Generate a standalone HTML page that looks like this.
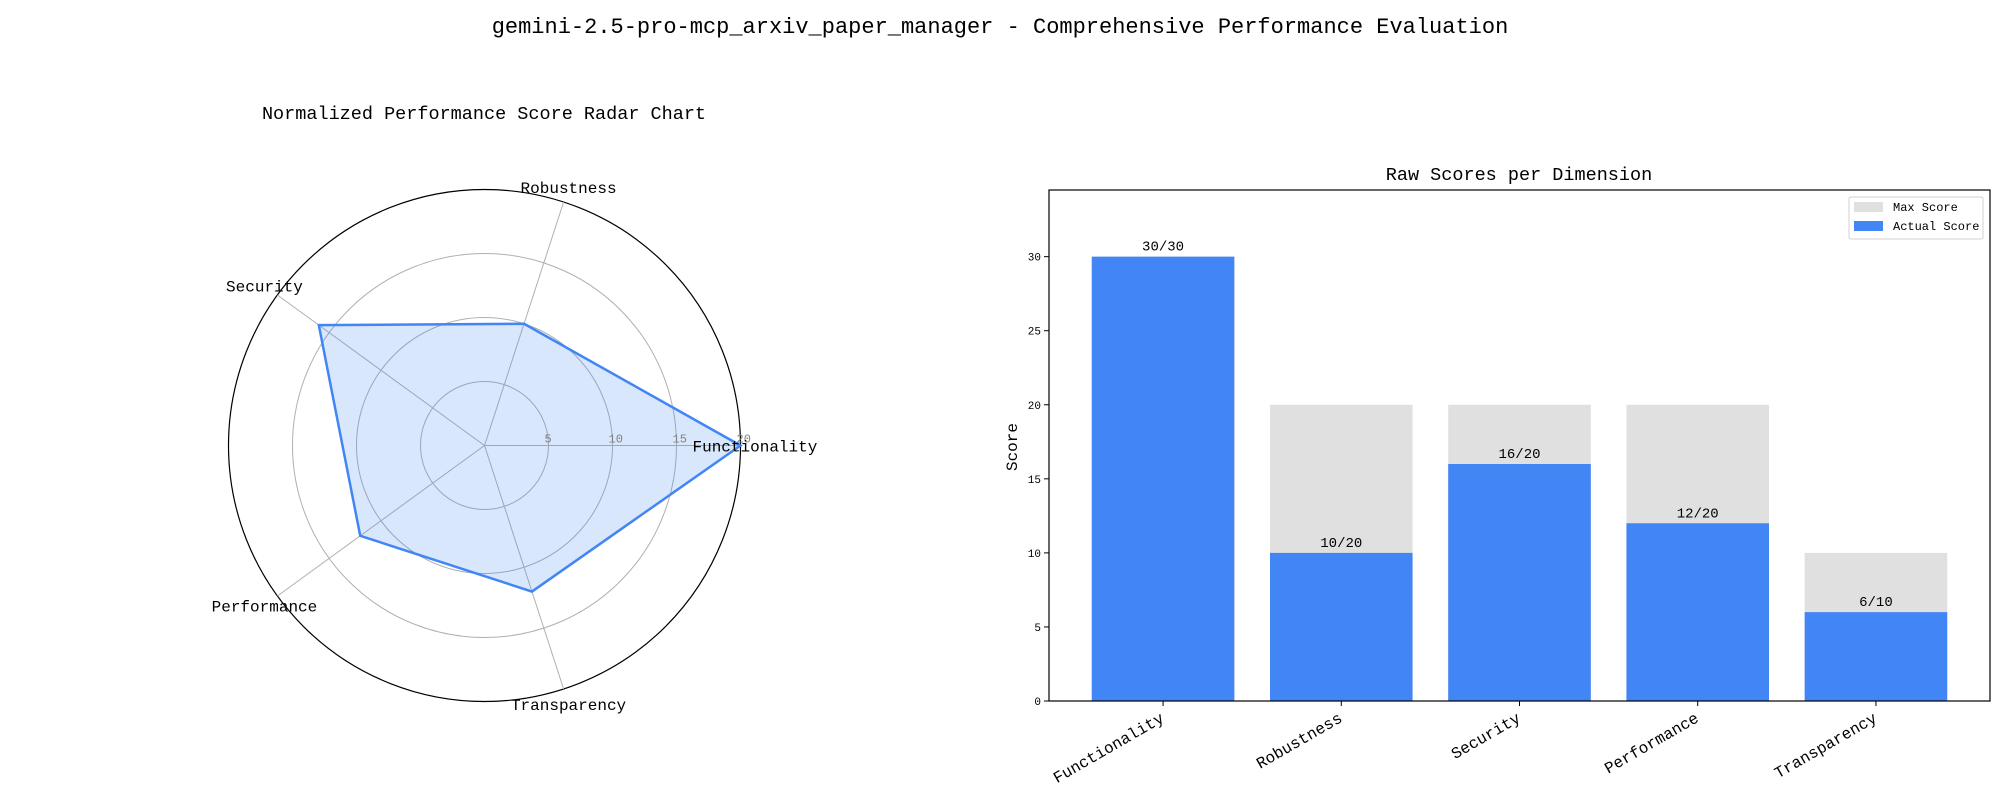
<!DOCTYPE html>
<html><head><meta charset="utf-8"><style>
html,body{margin:0;padding:0;background:#fff;}
svg text{font-family:"Liberation Mono","WenQuanYi Zen Hei",monospace;}
</style></head><body>
<svg width="2000" height="800" viewBox="0 0 2000 800" xmlns="http://www.w3.org/2000/svg" id="fig">
<text x="1000" y="33" font-size="22" text-anchor="middle">gemini-2.5-pro-mcp_arxiv_paper_manager - Comprehensive Performance Evaluation</text>
<text x="484" y="119" font-size="18.5" text-anchor="middle">Normalized Performance Score Radar Chart</text>
<text x="1519" y="180" font-size="18.5" text-anchor="middle">Raw Scores per Dimension</text>
<g id="radar"></g>
<g id="bars"></g>
</svg>
<script>
const categories = ["Functionality","Robustness","Security","Performance","Transparency"];
const normalizedScores = [20,10,16,12,12];
const radarTicks = [5,10,15,20];
const actualScores = [30,10,16,12,6];
const maxScores = [30,20,20,20,10];
const yTicks = [0,5,10,15,20,25,30];

const NS="http://www.w3.org/2000/svg";
function mk(tag,attrs,parent,txt){const e=document.createElementNS(NS,tag);for(const k in attrs)e.setAttribute(k,attrs[k]);if(txt!==undefined)e.textContent=txt;parent.appendChild(e);return e;}

// Radar
const R=document.getElementById('radar');
const cx=484.5, cy=445.5, rad=256, rmax=20;
const rS=v=>v/rmax*rad;
const ang=i=>i*2*Math.PI/categories.length;
radarTicks.forEach(t=>{
  const c=mk('circle',{cx:cx,cy:cy,r:rS(t),fill:'none',stroke:t===rmax?'#000':'#b0b0b0','stroke-width':t===rmax?1.2:1},R);
  
  
});
categories.forEach((c,i)=>{
  const a=ang(i);
  const l=mk('line',{x1:cx,y1:cy,x2:cx+rad*Math.cos(a),y2:cy-rad*Math.sin(a),stroke:'#b0b0b0','stroke-width':1},R);
  
  
});
const pts=normalizedScores.map((v,i)=>[cx+rS(v)*Math.cos(ang(i)),cy-rS(v)*Math.sin(ang(i))]);
const poly=mk('polygon',{points:pts.map(p=>p.join(',')).join(' '),fill:'rgba(66,133,244,0.2)',stroke:'#4285f4','stroke-width':2.5,'stroke-linejoin':'miter'},R);


radarTicks.forEach(t=>{
  const tx=mk('text',{x:cx+rS(t)-4,y:cy-3,'font-size':12,fill:'#808080'},R,String(t));
  
  
});
categories.forEach((c,i)=>{
  const a=ang(i); const lr=rad+16;
  let x=cx+lr*Math.cos(a), y=cy-lr*Math.sin(a)+6, anchor='middle';
  if(i===0){x=cx+208;anchor='start';y=cy+6;}
  const tx=mk('text',{x:x,y:y,'font-size':16,'text-anchor':anchor},R,c);
  
  
});

// Bars
const B=document.getElementById('bars');
const L=1049,Rr=1990,T=190,Bt=701,ymax=34.5;
const xlo=-0.64,xhi=4.64;
const xS=i=>L+(i-xlo)/(xhi-xlo)*(Rr-L);
const yS=v=>Bt-v/ymax*(Bt-T);
const bw=0.8*(Rr-L)/(xhi-xlo);
categories.forEach((c,i)=>{
  const g=mk('rect',{x:xS(i)-bw/2,y:yS(maxScores[i]),width:bw,height:Bt-yS(maxScores[i]),fill:'#e0e0e0'},B);
  
  
  const b=mk('rect',{x:xS(i)-bw/2,y:yS(actualScores[i]),width:bw,height:Bt-yS(actualScores[i]),fill:'#4285f4'},B);
  
  
  const lb=mk('text',{x:xS(i),y:yS(actualScores[i])-6,'font-size':14,'text-anchor':'middle'},B,actualScores[i]+'/'+maxScores[i]);
  
  
  const tk=mk('line',{x1:xS(i),x2:xS(i),y1:Bt,y2:Bt+5,stroke:'#000'},B);
  
  
  const xl=mk('text',{x:xS(i)+2,y:Bt+20,'font-size':16,'text-anchor':'end',transform:`rotate(-30 ${xS(i)+2} ${Bt+20})`},B,c);
  
  
});
yTicks.forEach(t=>{
  const tk=mk('line',{x1:L-5,x2:L,y1:yS(t),y2:yS(t),stroke:'#000'},B);
  
  
  const tl=mk('text',{x:L-8,y:yS(t)+4,'font-size':11,'text-anchor':'end'},B,String(t));
  
  
});
const fr=mk('rect',{x:L,y:T,width:Rr-L,height:Bt-T,fill:'none',stroke:'#000','stroke-width':1.2},B);


const yl=mk('text',{x:1017,y:447,'font-size':16,'text-anchor':'middle',transform:'rotate(-90 1017 447)'},B,'Score');


// legend
const lg=mk('g',{},B);


mk('rect',{x:1849,y:197,width:134,height:42,fill:'#fff',stroke:'#d0d0d0',rx:2},lg);
const e1=mk('rect',{x:1854,y:202,width:29,height:10,fill:'#e0e0e0'},lg);


const t1=mk('text',{x:1893,y:211,'font-size':12},lg,'Max Score');


const e2=mk('rect',{x:1854,y:221,width:29,height:10,fill:'#4285f4'},lg);


const t2=mk('text',{x:1893,y:230,'font-size':12},lg,'Actual Score');


</script>
</body></html>
